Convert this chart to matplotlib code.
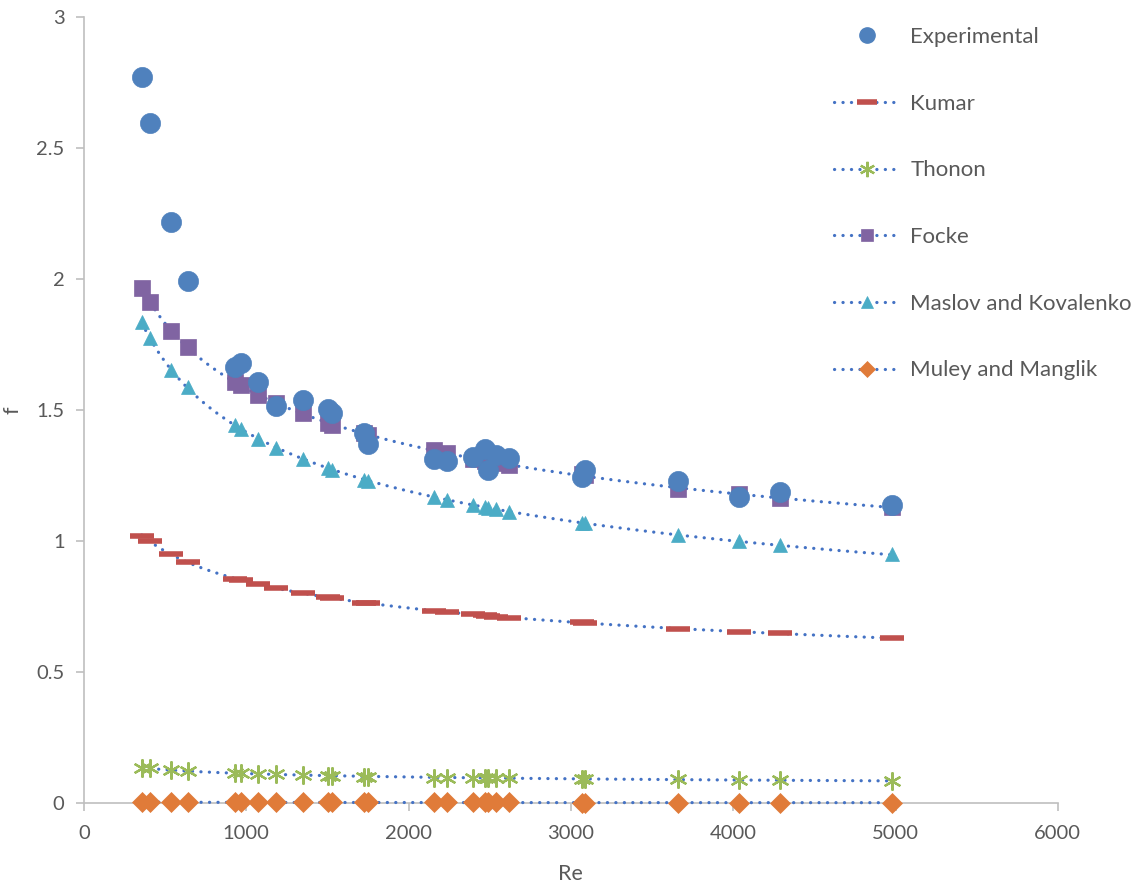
import matplotlib
matplotlib.use('Agg')
import matplotlib.pyplot as plt
import numpy as np
from matplotlib.lines import Line2D

plt.rcParams['font.family'] = ['Lato', 'DejaVu Sans']

# Reynolds numbers of the test points
re = np.array([356, 407, 536, 639, 930, 965, 1074, 1183, 1347, 1505, 1530, 1727, 1752,
               2157, 2238, 2395, 2471, 2489, 2538, 2621, 3068, 3087, 3662, 4038, 4288, 4980])

# friction factor, measured
f_exp = [2.771, 2.595, 2.218, 1.994, 1.665, 1.679, 1.606, 1.517, 1.538, 1.505, 1.489, 1.412, 1.370,
         1.313, 1.305, 1.321, 1.351, 1.271, 1.328, 1.317, 1.244, 1.271, 1.229, 1.169, 1.188, 1.137]

# friction factor from correlations
f_kumar = [1.019, 1.000, 0.950, 0.920, 0.855, 0.851, 0.836, 0.821, 0.800, 0.785, 0.782, 0.765, 0.763,
           0.734, 0.729, 0.720, 0.716, 0.714, 0.710, 0.707, 0.690, 0.688, 0.664, 0.654, 0.648, 0.629]
f_thonon = [0.135, 0.132, 0.126, 0.122, 0.114, 0.113, 0.111, 0.109, 0.107, 0.104, 0.104, 0.101, 0.101,
            0.097, 0.097, 0.096, 0.095, 0.095, 0.095, 0.094, 0.092, 0.092, 0.090, 0.088, 0.087, 0.085]
f_focke = [1.967, 1.911, 1.802, 1.739, 1.608, 1.595, 1.557, 1.526, 1.488, 1.450, 1.443, 1.411, 1.405,
           1.347, 1.335, 1.315, 1.305, 1.302, 1.296, 1.290, 1.255, 1.252, 1.200, 1.180, 1.165, 1.128]
f_maslov = [1.837, 1.774, 1.653, 1.587, 1.443, 1.426, 1.388, 1.356, 1.315, 1.277, 1.273, 1.233, 1.229,
            1.167, 1.156, 1.137, 1.129, 1.127, 1.123, 1.112, 1.069, 1.067, 1.023, 1.000, 0.985, 0.949]
f_muley = [0.003, 0.003, 0.003, 0.003, 0.002, 0.002, 0.002, 0.002, 0.002, 0.002, 0.002, 0.002, 0.002,
           0.002, 0.002, 0.002, 0.002, 0.002, 0.002, 0.002, 0.001, 0.001, 0.001, 0.001, 0.001, 0.001]

c_blue = '#4F81BD'
c_trend = '#4472C4'
dotted = (0, (0.05, 2.6))

fig = plt.figure(figsize=(11.35, 8.86), dpi=100)
ax = fig.add_axes([0.074, 0.0937, 0.858, 0.887])

def power_trend(y):
    # power-law fit y = a*Re^b, like a spreadsheet trendline
    b, lna = np.polyfit(np.log(re), np.log(y), 1)
    xs = np.linspace(re.min(), re.max(), 300)
    ax.plot(xs, np.exp(lna) * xs ** b, linestyle=dotted, color=c_trend, lw=2.3,
            dash_capstyle='round', zorder=2.6, clip_on=False)

models = [
    (f_kumar, '_', '#C0504D', 17, 4.0),
    (f_thonon, (6, 2, 0), '#9BBB59', 13, 1.6),
    (f_focke, 's', '#8064A2', 11, 0.5),
    (f_maslov, '^', '#4BACC6', 10.5, 0.5),
    (f_muley, 'D', '#E07B39', 10, 0.5),
]
for y, mk, col, ms, mew in models:
    ax.plot(re, y, linestyle='none', marker=mk, color=col, ms=ms, mew=mew,
            mec=col, zorder=3, clip_on=False)
    power_trend(y)

ax.plot(re, f_exp, linestyle='none', marker='o', color=c_blue, ms=14.5, mec=c_blue,
        mew=0.5, zorder=4, clip_on=False)

ax.set_xlim(0, 6000)
ax.set_ylim(0, 3)
ax.set_xticks(np.arange(0, 6001, 1000))
ax.set_yticks(np.arange(0, 3.01, 0.5))
ax.set_yticklabels(['0', '0.5', '1', '1.5', '2', '2.5', '3'])
for s in ['top', 'right']:
    ax.spines[s].set_visible(False)
for s in ['left', 'bottom']:
    ax.spines[s].set_color('#BFBFBF')
    ax.spines[s].set_linewidth(1.2)
ax.tick_params(colors='#BFBFBF', labelcolor='#595959', labelsize=14.5, length=6, width=1.2)
ax.tick_params(axis='y', pad=8)
ax.tick_params(axis='x', pad=10)
ax.set_xlabel('Re', fontsize=15.5, color='#595959', labelpad=16)
ax.set_ylabel('f', fontsize=15.5, color='#595959', labelpad=10)

# legend
handles = [Line2D([], [], linestyle='none', marker='o', color=c_blue, ms=11)]
labels = ['Experimental', 'Kumar', 'Thonon', 'Focke', 'Maslov and Kovalenko', 'Muley and Manglik']
for y, mk, col, ms, mew in models:
    handles.append(Line2D([], [], linestyle=dotted, color=c_trend, lw=2.3, dash_capstyle='round',
                          marker=mk, mfc=col, mec=col, ms=ms * 0.85, mew=mew))
fig.legend(handles, labels, loc='upper left', bbox_to_anchor=(0.717, 0.992), frameon=False,
           fontsize=16, labelcolor='#595959', handlelength=3.0, labelspacing=2.1,
           handletextpad=0.45, markerscale=1.0)

fig.savefig('out.png', dpi=100)
